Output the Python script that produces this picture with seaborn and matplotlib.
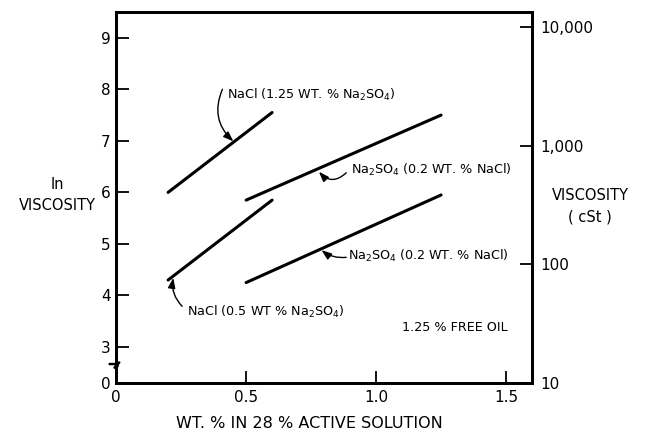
import numpy as np
import pandas as pd
import matplotlib
matplotlib.use("Agg")
import matplotlib.pyplot as plt
import seaborn as sns

# line end points (x = wt %, y = ln viscosity)
nacl_hi_x = [0.2, 0.6]
nacl_hi_y = [6.0, 7.55]
na2so4_hi_x = [0.5, 1.25]
na2so4_hi_y = [5.85, 7.5]
nacl_lo_x = [0.2, 0.6]
nacl_lo_y = [4.3, 5.85]
na2so4_lo_x = [0.5, 1.25]
na2so4_lo_y = [4.25, 5.95]

x_ticks = [0, 0.5, 1.0, 1.5]
x_tick_labels = ["0", "0.5", "1.0", "1.5"]
ln_ticks = [3, 4, 5, 6, 7, 8, 9]
cst_values = [10, 100, 1000, 10000]
cst_labels = ["10", "100", "1,000", "10,000"]

y_bottom = np.log(10)
y_top = 9.5

df = pd.concat([
    pd.DataFrame({"x": nacl_hi_x, "y": nacl_hi_y, "series": "nacl_hi"}),
    pd.DataFrame({"x": na2so4_hi_x, "y": na2so4_hi_y, "series": "na2so4_hi"}),
    pd.DataFrame({"x": nacl_lo_x, "y": nacl_lo_y, "series": "nacl_lo"}),
    pd.DataFrame({"x": na2so4_lo_x, "y": na2so4_lo_y, "series": "na2so4_lo"}),
], ignore_index=True)

sns.set_style("ticks")
plt.rcParams["font.family"] = ["DejaVu Sans"]
plt.rcParams["text.color"] = "black"
plt.rcParams["axes.labelcolor"] = "black"
plt.rcParams["xtick.color"] = "black"
plt.rcParams["ytick.color"] = "black"

fig = plt.figure(figsize=(6.45, 4.37), dpi=100)
ax = fig.add_axes([0.180, 0.1236, 0.645, 0.849])

sns.lineplot(data=df, x="x", y="y", units="series", estimator=None,
             color="black", lw=2.2, ax=ax, legend=False)

ax.set_xlim(0, 1.6)
ax.set_ylim(y_bottom, y_top)

for s in ax.spines.values():
    s.set_linewidth(2)
    s.set_color("black")

ax.set_xticks(x_ticks)
ax.set_xticklabels(x_tick_labels)
ax.set_yticks([y_bottom] + ln_ticks)
ax.set_yticklabels(["0"] + [str(t) for t in ln_ticks])
ax.tick_params(direction="in", length=9, width=1.3, labelsize=11, pad=5)
ax.tick_params(axis="y", pad=4)

ax2 = ax.twinx()
ax2.set_ylim(y_bottom, y_top)
ax2.set_yticks(np.log(cst_values))
ax2.set_yticklabels(cst_labels)
ax2.tick_params(direction="in", length=9, width=1.3, labelsize=11, pad=6)
for s in ax2.spines.values():
    s.set_linewidth(2)
    s.set_color("black")

ax.set_xlabel("WT. % IN 28 % ACTIVE SOLUTION", fontsize=11.5)
ax.xaxis.set_label_coords(0.464, -0.088)
ax.set_ylabel("ln\nVISCOSITY", rotation=0, fontsize=10.5,
              ha="center", va="center", linespacing=1.5)
ax.yaxis.set_label_coords(-0.142, 0.507)
ax2.set_ylabel("VISCOSITY\n( cSt )", rotation=0, fontsize=10.5,
               ha="center", va="center", linespacing=1.5)
ax2.yaxis.set_label_coords(1.139, 0.477)

# axis break on the left spine
ax.plot([-0.025, 0.0, 0.012, -0.006, 0.006],
        [2.67, 2.67, 2.7, 2.6, 2.63],
        color="black", lw=1.8, clip_on=False)

arrow = dict(arrowstyle="-|>,head_length=0.6,head_width=0.22",
             color="black", lw=1.0, shrinkA=0, shrinkB=0)
fs = 9.2

ax.text(0.428, 7.89, r"NaCl (1.25 WT. % Na$_2$SO$_4$)", fontsize=fs, va="center")
ax.annotate("", xy=(0.451, 6.99), xytext=(0.409, 8.0),
            arrowprops=dict(arrow, connectionstyle="arc3,rad=0.35"))

ax.text(0.902, 6.44, r"Na$_2$SO$_4$ (0.2 WT. % NaCl)", fontsize=fs, va="center")
ax.annotate("", xy=(0.78, 6.4), xytext=(0.885, 6.38),
            arrowprops=dict(arrow, connectionstyle="arc3,rad=-0.5"))

ax.text(0.89, 4.76, r"Na$_2$SO$_4$ (0.2 WT. % NaCl)", fontsize=fs, va="center")
ax.annotate("", xy=(0.79, 4.88), xytext=(0.885, 4.74),
            arrowprops=dict(arrow, connectionstyle="arc3,rad=-0.2"))

ax.text(0.274, 3.68, r"NaCl (0.5 WT % Na$_2$SO$_4$)", fontsize=fs, va="center")
ax.annotate("", xy=(0.22, 4.34), xytext=(0.254, 3.79),
            arrowprops=dict(arrow, connectionstyle="arc3,rad=-0.25"))

ax.text(1.10, 3.37, "1.25 % FREE OIL", fontsize=fs, va="center")

fig.savefig("out.png", dpi=100)
